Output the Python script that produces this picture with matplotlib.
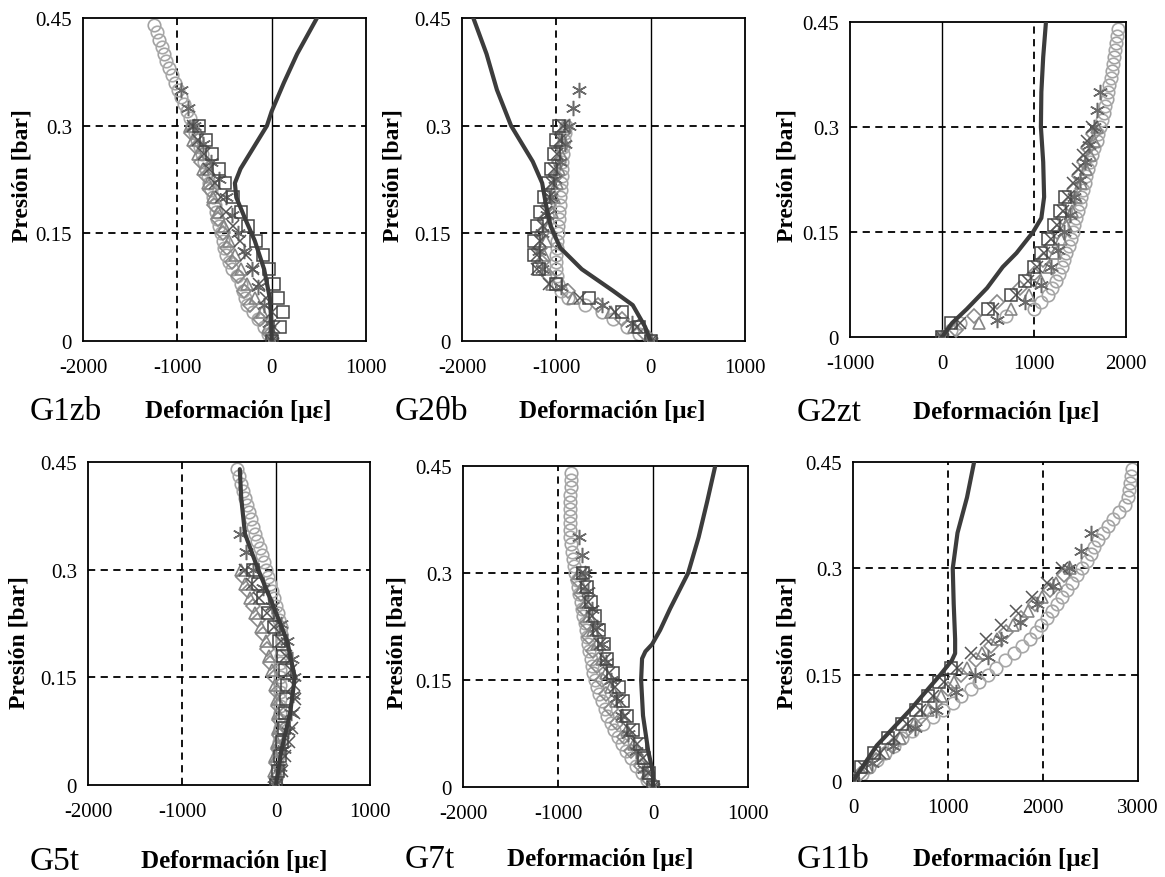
import numpy as np
import matplotlib
matplotlib.use("Agg")
import matplotlib.pyplot as plt

plt.rcParams['font.family'] = ['Liberation Serif', 'DejaVu Serif']
plt.rcParams['axes.unicode_minus'] = False

nan = np.nan

# ---------------- shared pressure levels [bar] ----------------
P_A = [0.00, 0.02, 0.04, 0.06, 0.08, 0.10, 0.12, 0.14, 0.16, 0.18, 0.20, 0.22, 0.24, 0.26, 0.28, 0.30]
P_B = [0.00, 0.025, 0.05, 0.075, 0.10, 0.125, 0.15, 0.175, 0.20, 0.225, 0.25, 0.275, 0.30, 0.325, 0.35]
P_C = [0.00, 0.02, 0.04, 0.06, 0.08, 0.10, 0.12, 0.14, 0.16, 0.18, 0.20, 0.22,
       0.24, 0.26, 0.28, 0.30, 0.32, 0.34, 0.36, 0.38, 0.40, 0.42, 0.44]
P_D = [0.01, 0.03, 0.05, 0.07, 0.09, 0.11, 0.13, 0.15, 0.17, 0.19, 0.21, 0.23, 0.25, 0.27, 0.29]
P_E = [0.01, 0.03, 0.05, 0.07, 0.09, 0.11, 0.13, 0.15, 0.17, 0.19, 0.21,
       0.23, 0.25, 0.27, 0.29, 0.31, 0.33, 0.35, 0.37, 0.39, 0.41, 0.43]

panel_names = ['G1zb', 'G2\u03b8b', 'G2zt', 'G5t', 'G7t', 'G11b']
y_ticks = [0, 0.15, 0.3, 0.45]
y_ticklabels = ['0', '0.15', '0.3', '0.45']
x_ticks_neg = [-2000, -1000, 0, 1000]
x_ticks_mid = [-1000, 0, 1000, 2000]
x_ticks_pos = [0, 1000, 2000, 3000]

# ---------------- G1zb ----------------
g1zb_sq = [0, 90, 120, 70, 20, -30, -90, -170, -250, -330, -410, -490, -560, -630, -700, -770]
g1zb_x = [0, 30, 0, -60, -130, -200, -270, -340, -410, -480, -540, -600, -660, -720, -780, -830]
g1zb_tri = [0, -40, -100, -180, -260, -330, -390, -450, -510, -570, -620, -680, -730, -780, -830, -870]
g1zb_dia = [-20, -120, -230, -290, -360, -420, -470, -520, -570, -610, -650, -700, -750, -800, -850]
g1zb_ast = [0, -30, -80, -140, -210, -290, -360, -420, -480, -560, -640, -730, -820, -890, -960]
g1zb_circ = [0, -80, -200, -280, -330, -420, -480, -520, -560, -590, -620, -660,
             -700, -740, -790, -840, -900, -960, -1020, -1090, -1140, -1190, -1250]
g1zb_circ2 = [-40, -150, -260, -300, -370, -450, -500, -540, -575, -605, -640,
              -680, -720, -765, -815, -870, -930, -990, -1060, -1120, -1160, -1220]
g1zb_model_p = [0, 0.03, 0.06, 0.10, 0.14, 0.17, 0.20, 0.22, 0.24, 0.27, 0.30, 0.32, 0.36, 0.40, 0.45]
g1zb_model = [0, -5, -20, -80, -180, -280, -375, -390, -330, -190, -50, 0, 130, 270, 480]

# ---------------- G2θb ----------------
g2tb_sq = [0, -120, -300, -650, -1000, -1180, -1240, -1240, -1210, -1170, -1130, -1090, -1060, -1030, -1000, -970]
g2tb_x = [0, -150, -380, -750, -1080, -1200, -1200, -1170, -1140, -1110, -1080, -1050, -1020, -990, -960, -930]
g2tb_tri = [0, -180, -420, -820, -1050, -1120, -1130, -1110, -1080, -1050, -1020, -990, -970, -950, -930, -910]
g2tb_dia = [-60, -300, -560, -880, -1080, -1150, -1170, -1150, -1120, -1080, -1040, -1000, -970, -950, -930]
g2tb_ast = [0, -200, -520, -950, -1150, -1180, -1150, -1100, -1060, -1010, -960, -910, -870, -820, -760]
g2tb_circ = [0, -250, -520, -880, -980, -1000, -1000, -990, -980, -970, -960, -950,
             -940, -930, -920, -900, nan, nan, nan, nan, nan, nan, nan]
g2tb_circ2 = [-120, -400, -700, -950, -990, -1000, -995, -985, -975, -965, -955,
              -945, -935, -925, -910, nan, nan, nan, nan, nan, nan, nan]
g2tb_model_p = [0, 0.02, 0.05, 0.07, 0.10, 0.13, 0.16, 0.19, 0.22, 0.25, 0.30, 0.35, 0.40, 0.45]
g2tb_model = [0, -60, -190, -400, -730, -960, -1060, -1110, -1150, -1250, -1480, -1630, -1740, -1880]

# ---------------- G2zt ----------------
g2zt_sq = [0, 100, 500, 750, 900, 1000, 1080, 1150, 1220, 1280, 1340, nan, nan, nan, nan, nan]
g2zt_x = [0, 200, 550, 800, 930, 1030, 1110, 1180, 1250, 1310, 1370, 1420, 1480, 1530, 1580, 1630]
g2zt_tri = [0, 400, 750, 950, 1080, 1160, 1230, 1290, 1350, 1410, 1460, 1510, 1560, 1610, 1650, 1690]
g2zt_dia = [150, 350, 600, 850, 1000, 1100, 1180, 1250, 1320, 1380, 1440, 1490, 1540, 1590, 1640]
g2zt_ast = [0, 600, 900, 1080, 1180, 1260, 1330, 1390, 1440, 1500, 1550, 1600, 1650, 1690, 1720]
g2zt_circ = [0, 200, 1000, 1150, 1240, 1300, 1350, 1400, 1440, 1480, 1510, 1550,
             1590, 1630, 1680, 1720, 1760, 1790, 1820, 1850, 1870, 1890, 1910]
g2zt_circ2 = [100, 700, 1080, 1200, 1270, 1330, 1380, 1420, 1460, 1500, 1530,
              1570, 1610, 1655, 1700, 1740, 1775, 1805, 1835, 1860, 1880, 1900]
g2zt_model_p = [0, 0.02, 0.04, 0.07, 0.10, 0.12, 0.15, 0.17, 0.20, 0.25, 0.30, 0.35, 0.40, 0.45]
g2zt_model = [0, 110, 270, 490, 660, 810, 990, 1080, 1110, 1100, 1075, 1080, 1100, 1130]

# ---------------- G5t ----------------
g5t_sq = [0, 20, 40, 60, 80, 100, 110, 120, 100, 70, 30, -20, -80, -140, -190, -240]
g5t_x = [0, 60, 100, 140, 170, 190, 200, 190, 160, 110, 50, -20, -100, -180, -260, -330]
g5t_tri = [0, -20, -10, 10, 20, 20, 10, -10, -40, -70, -110, -160, -220, -280, -330, -370]
g5t_dia = [0, 0, 20, 30, 30, 20, 10, -20, -60, -100, -140, -190, -250, -300, -350]
g5t_ast = [-20, 40, 80, 130, 160, 180, 190, 170, 120, 50, -40, -140, -240, -320, -380]
g5t_circ = [0, 10, 20, 30, 40, 40, 40, 40, 40, 50, 60, 50, 20, -20, -60, -110,
            -150, -200, -250, -290, -330, -370, -410]
g5t_circ2 = [5, 15, 25, 35, 40, 40, 40, 40, 45, 55, 55, 35, 0, -40, -85,
             -130, -175, -225, -270, -310, -350, -390]
g5t_model_p = [0, 0.05, 0.10, 0.15, 0.20, 0.25, 0.30, 0.35, 0.40, 0.44]
g5t_model = [0, 60, 150, 200, 120, -30, -190, -330, -370, -385]

# ---------------- G7t ----------------
g7t_sq = [0, -40, -90, -140, -210, -270, -320, -360, -420, -480, -520, -570, -610, -650, -700, -740]
g7t_x = [0, -50, -110, -170, -240, -300, -350, -400, -460, -510, -560, -600, -640, -680, -720, -750]
g7t_tri = [0, -60, -130, -200, -270, -330, -390, -440, -490, -540, -590, -630, -670, -710, -750, -780]
g7t_dia = [-40, -130, -230, -310, -380, -440, -490, -540, -590, -630, -670, -700, -730, -760, -790]
g7t_ast = [0, -90, -180, -260, -330, -390, -440, -490, -540, -590, -640, -680, -720, -750, -775]
g7t_circ = [0, -120, -230, -330, -410, -480, -540, -590, -630, -655, -680, -710,
            -735, -760, -790, -820, -845, -865, -875, -875, -870, -868, -863]
g7t_circ2 = [-60, -175, -280, -370, -445, -510, -565, -610, -645, -670, -695,
             -720, -750, -775, -805, -830, -855, -870, -875, -872, -869, -865]
g7t_model_p = [0, 0.02, 0.05, 0.10, 0.15, 0.18, 0.19, 0.20, 0.22, 0.25, 0.30, 0.35, 0.40, 0.45]
g7t_model = [0, 0, -50, -105, -125, -115, -80, -10, 75, 180, 370, 480, 570, 655]

# ---------------- G11b ----------------
g11b_sq = [0, 80, 220, 370, 520, 660, 790, 910, 1030, nan, nan, nan, nan, nan, nan, nan]
g11b_x = [0, 120, 280, 430, 570, 710, 840, 960, 1090, 1240, 1400, 1560, 1720, 1880, 2040, 2200]
g11b_tri = [0, 150, 330, 490, 640, 790, 930, 1060, 1200, 1360, 1520, 1680, 1840, 1990, 2140, 2280]
g11b_dia = [70, 240, 410, 560, 720, 860, 1000, 1140, 1290, 1450, 1610, 1770, 1920, 2070, 2220]
g11b_ast = [0, 200, 420, 650, 870, 1080, 1280, 1420, 1560, 1760, 1940, 2110, 2270, 2400, 2510]
g11b_circ = [0, 170, 340, 520, 740, 950, 1140, 1330, 1500, 1690, 1860, 1980,
             2090, 2200, 2310, 2410, 2500, 2580, 2680, 2800, 2890, 2920, 2940]
g11b_circ2 = [90, 250, 430, 620, 840, 1050, 1240, 1420, 1600, 1780, 1930,
              2040, 2150, 2250, 2360, 2460, 2540, 2630, 2740, 2860, 2900, 2930]
g11b_model_p = [0, 0.02, 0.05, 0.10, 0.15, 0.17, 0.18, 0.20, 0.25, 0.30, 0.35, 0.40, 0.45]
g11b_model = [0, 100, 250, 600, 920, 1040, 1075, 1075, 1060, 1050, 1100, 1200, 1275]

# ---------------- layout (pixels) ----------------
W, H = 1165, 878
fig = plt.figure(figsize=(W / 100, H / 100), dpi=100)


def rect(l, r, t, b):
    return [l / W, 1 - b / H, (r - l) / W, (b - t) / H]


def ftxt(x, y, s, **kw):
    fig.text(x / W, 1 - y / H, s, **kw)


panels = [
    dict(name=panel_names[0], box=(83, 366, 19, 342), xt=x_ticks_neg, solid=[0], dashed=[-1000],
         sq=g1zb_sq, x=g1zb_x, tri=g1zb_tri, dia=g1zb_dia, ast=g1zb_ast, circ=g1zb_circ, circ2=g1zb_circ2,
         mp=g1zb_model_p, m=g1zb_model, glab=(30, 412), dlab=(238, 412), ylab=(22, 176)),
    dict(name=panel_names[1], box=(462, 745, 19, 342), xt=x_ticks_neg, solid=[0], dashed=[-1000],
         sq=g2tb_sq, x=g2tb_x, tri=g2tb_tri, dia=g2tb_dia, ast=g2tb_ast, circ=g2tb_circ, circ2=g2tb_circ2,
         mp=g2tb_model_p, m=g2tb_model, glab=(395, 412), dlab=(612, 412), ylab=(393, 176)),
    dict(name=panel_names[2], box=(850, 1126, 23, 338), xt=x_ticks_mid, solid=[0], dashed=[1000],
         sq=g2zt_sq, x=g2zt_x, tri=g2zt_tri, dia=g2zt_dia, ast=g2zt_ast, circ=g2zt_circ, circ2=g2zt_circ2,
         mp=g2zt_model_p, m=g2zt_model, glab=(797, 413), dlab=(1006, 413), ylab=(787, 176)),
    dict(name=panel_names[3], box=(88, 370, 463, 786), xt=x_ticks_neg, solid=[0], dashed=[-1000],
         sq=g5t_sq, x=g5t_x, tri=g5t_tri, dia=g5t_dia, ast=g5t_ast, circ=g5t_circ, circ2=g5t_circ2,
         mp=g5t_model_p, m=g5t_model, glab=(30, 862), dlab=(234, 862), ylab=(19, 643)),
    dict(name=panel_names[4], box=(463, 748, 467, 788), xt=x_ticks_neg, solid=[0], dashed=[-1000],
         sq=g7t_sq, x=g7t_x, tri=g7t_tri, dia=g7t_dia, ast=g7t_ast, circ=g7t_circ, circ2=g7t_circ2,
         mp=g7t_model_p, m=g7t_model, glab=(405, 860), dlab=(600, 860), ylab=(397, 643)),
    dict(name=panel_names[5], box=(853, 1138, 463, 782), xt=x_ticks_pos, solid=[], dashed=[1000, 2000],
         sq=g11b_sq, x=g11b_x, tri=g11b_tri, dia=g11b_dia, ast=g11b_ast, circ=g11b_circ, circ2=g11b_circ2,
         mp=g11b_model_p, m=g11b_model, glab=(797, 860), dlab=(1006, 860), ylab=(787, 643)),
]

DASH = (0, (4, 3))

for pnl in panels:
    ax = fig.add_axes(rect(*pnl['box']))
    xt = pnl['xt']
    ax.set_xlim(xt[0], xt[-1])
    ax.set_ylim(0, 0.45)
    for v in pnl['dashed']:
        ax.axvline(v, color='black', lw=1.3, linestyle=DASH, zorder=1)
    for v in pnl['solid']:
        ax.axvline(v, color='black', lw=1.0, zorder=1)
    for h in (0.15, 0.3):
        ax.axhline(h, color='black', lw=1.3, linestyle=DASH, zorder=1)

    ax.plot(pnl['circ'], P_C, linestyle='none', marker='o', ms=9, mfc='none',
            mec='#a2a2a2', mew=1.2, zorder=2)
    ax.plot(pnl['circ2'], P_E, linestyle='none', marker='o', ms=9, mfc='none',
            mec='#a8a8a8', mew=1.2, zorder=2)
    ax.plot(pnl['dia'], P_D, linestyle='none', marker='D', ms=7, mfc='none',
            mec='#8a8a8a', mew=1.2, zorder=3)
    ax.plot(pnl['tri'], P_A, linestyle='none', marker='^', ms=9, mfc='none',
            mec='#858585', mew=1.2, zorder=3)
    ax.plot(pnl['ast'], P_B, linestyle='none', marker=(6, 2, 0), ms=11,
            mec='#6a6a6a', mew=1.1, zorder=3)
    ax.plot(pnl['x'], P_A, linestyle='none', marker='x', ms=8,
            mec='#555555', mew=1.1, zorder=3)
    ax.plot(pnl['sq'], P_A, linestyle='none', marker='s', ms=8, mfc='none',
            mec='#444444', mew=1.1, zorder=3)
    ax.plot(pnl['m'], pnl['mp'], color='#3c3c3c', lw=3.0, zorder=4,
            solid_capstyle='round')

    ax.set_xticks(xt)
    ax.set_xticklabels([str(v) for v in xt])
    ax.set_yticks(y_ticks)
    ax.set_yticklabels(y_ticklabels)
    ax.tick_params(length=0, labelsize=15, pad=12)
    ax.tick_params(axis='y', pad=8)
    for s in ax.spines.values():
        s.set_linewidth(1.3)
        s.set_color('black')

    ftxt(pnl['glab'][0], pnl['glab'][1], pnl['name'], fontsize=24,
         ha='left', va='center')
    ftxt(pnl['dlab'][0], pnl['dlab'][1], 'Deformación [\u03bc\u03b5]', fontsize=18,
         fontweight='bold', ha='center', va='center')
    ftxt(pnl['ylab'][0], pnl['ylab'][1], 'Presión [bar]', fontsize=17,
         fontweight='bold', ha='center', va='center', rotation=90)

fig.savefig('out.png', dpi=100, facecolor='white')
